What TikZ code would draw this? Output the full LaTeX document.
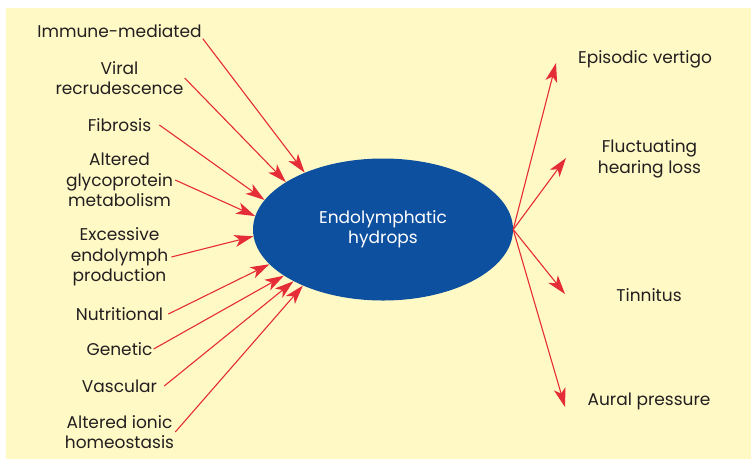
\documentclass[tikz,border=0pt]{standalone}
\usepackage{fontspec}
\setmainfont{Poppins}
\usetikzlibrary{arrows.meta}
\usetikzlibrary{shapes.geometric}
\definecolor{paper}{HTML}{FFF9C5}
\definecolor{hydblue}{HTML}{0E50A0}
\definecolor{arrred}{HTML}{E52D37}
\definecolor{ink}{HTML}{231F20}

\begin{document}
\begin{tikzpicture} [x=1pt, y=-1pt,
  lbl/.style={align=center, text=ink, inner sep=1, font=\fontsize{17}{20.5}\selectfont},
  arr/.style={arrred, line width=1.1pt, -{Stealth[length=19pt, width=12pt, inset=5pt]}}]
\useasboundingbox (0,0) rectangle (751,459);
\fill[paper] (6,8) rectangle (751,459);
\node[ellipse, fill=hydblue, minimum width=260, minimum height=142, inner sep=0,
      text=white, align=center, font=\fontsize{17}{20}\selectfont] (hyd) at (383,229.5) {Endolymphatic\\hydrops};
% causes
\node[lbl] (imm) at (119.5,31) {Immune-mediated};
\node[lbl] (vir) at (119.5,78) {Viral\\recrudescence};
\node[lbl] (fib) at (119.5,125) {Fibrosis};
\node[lbl] (gly) at (119.5,180) {Altered\\glycoprotein\\metabolism};
\node[lbl] (exc) at (119.5,257) {Excessive\\endolymph\\production};
\node[lbl] (nut) at (119.5,314) {Nutritional};
\node[lbl] (gen) at (119.5,349) {Genetic};
\node[lbl] (vas) at (119.5,386) {Vascular};
\node[lbl] (ion) at (119.5,432) {Altered ionic\\homeostasis};
\draw[arr] (imm.south east) -- (hyd.144);
\foreach \n/\dx/\a in {vir/0/154, fib/7/166, gly/1/174, exc/2/183, nut/4/197, gen/0/205, vas/6/210, ion/0/215} {
 \draw[arr] ([xshift=\dx pt]\n.east) -- (hyd.\a);
}
% symptoms
\node[lbl] (ver) at (645,59) {Episodic vertigo};
\node[lbl] (flu) at (649.5,159) {Fluctuating\\hearing loss};
\node[lbl] (tin) at (649,295) {Tinnitus};
\node[lbl] (aur) at (649,401) {Aural pressure};
\coordinate (tver) at (556,63);
\coordinate (tflu) at (566,158);
\coordinate (ttin) at (565,294);
\coordinate (taur) at (565,407);
\foreach \t in {tver,tflu,ttin,taur} {
 \draw[arr] (hyd.east) -- (\t);
}
\end{tikzpicture}
\end{document}
